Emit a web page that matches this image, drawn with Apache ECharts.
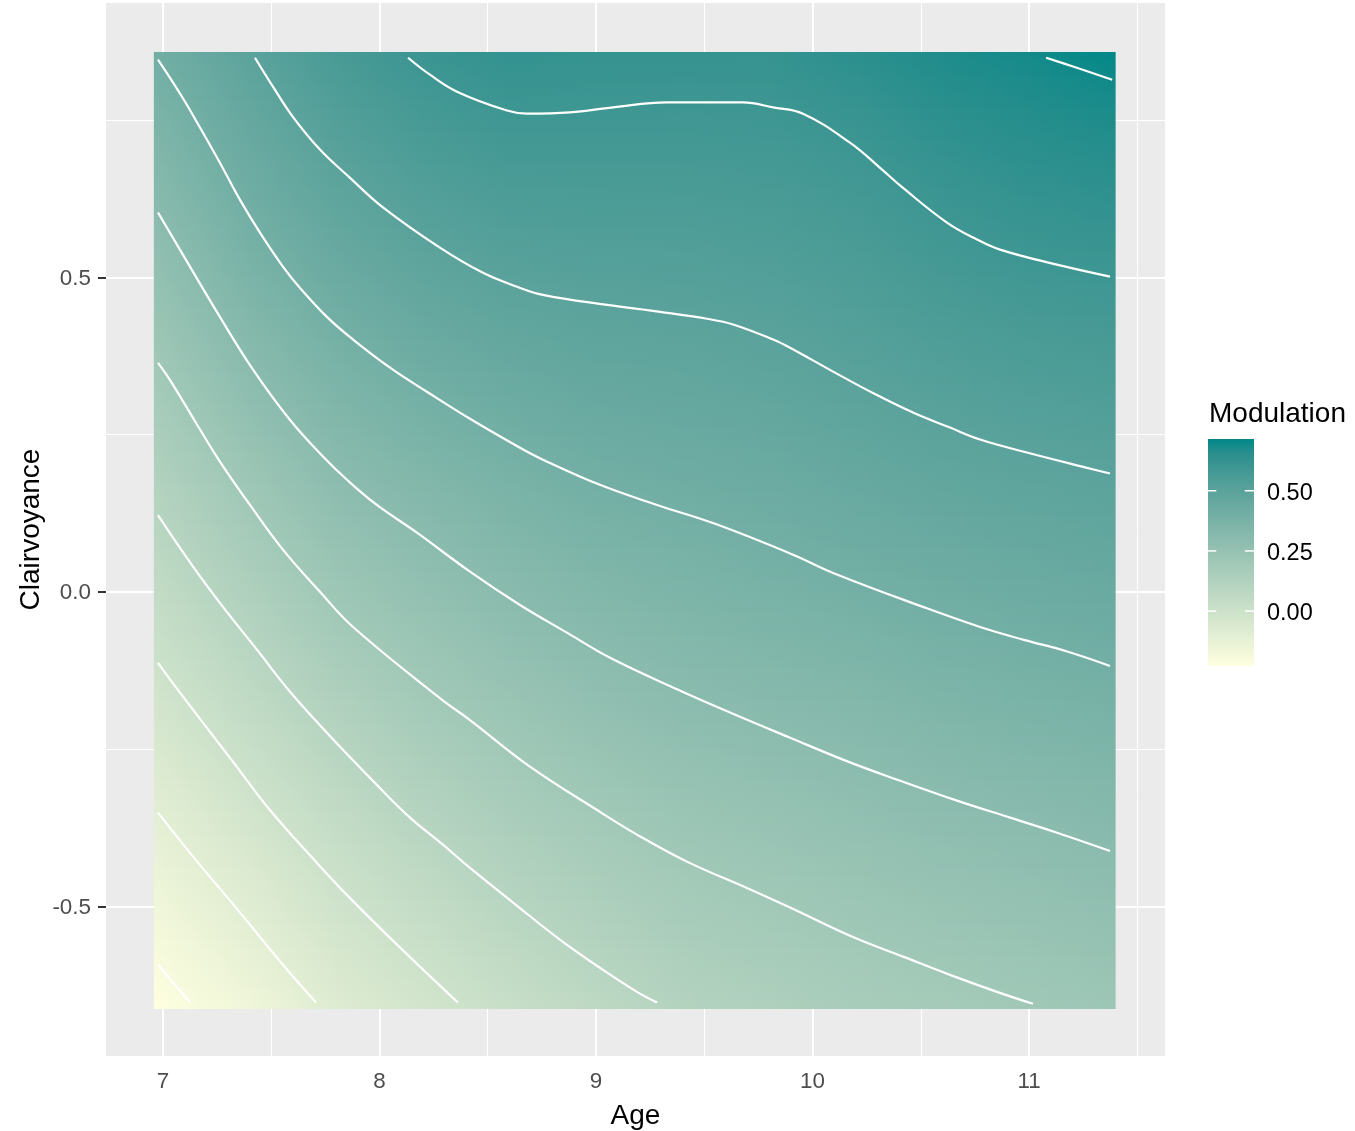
<!DOCTYPE html>
<html><head><meta charset="utf-8">
<style>html,body{margin:0;padding:0;background:#fff}#c{width:1355px;height:1131px}</style>
<script src="https://cdn.jsdelivr.net/npm/echarts@6/dist/echarts.min.js"></script>
</head><body><div id="c"></div>
<script>
// ---- tick labels and scale limits ----
const ageTicks = [7, 8, 9, 10, 11];
const ageMinorLines = [7.5, 8.5, 9.5, 10.5, 11.5];
const clairTicks = [-0.5, 0, 0.5];
const clairMinorLines = [-0.25, 0.25, 0.75];
const legendTicks = [0, 0.25, 0.5];
const modulationLimits = [-0.228, 0.715];

// ---- raster values: one row per Clairvoyance value, one column per Age value ----
const ageBreaks = [6.958, 7.4, 7.8, 8.2, 8.6, 9.0, 9.4, 9.8, 10.2, 10.6, 11.0, 11.4];
const clairBreaks = [0.8585, 0.76, 0.66, 0.56, 0.46, 0.36, 0.26, 0.16, 0.06, -0.04, -0.14, -0.24, -0.34, -0.44, -0.54, -0.663];
const modulationRows = [
  [0.404, 0.493, 0.565, 0.611, 0.633, 0.626, 0.626, 0.625, 0.652, 0.679, 0.697, 0.715],
  [0.363, 0.459, 0.529, 0.574, 0.598, 0.597, 0.595, 0.598, 0.618, 0.650, 0.668, 0.684],
  [0.322, 0.424, 0.492, 0.537, 0.562, 0.565, 0.565, 0.570, 0.587, 0.619, 0.639, 0.652],
  [0.281, 0.387, 0.453, 0.500, 0.525, 0.532, 0.535, 0.543, 0.561, 0.589, 0.609, 0.619],
  [0.240, 0.345, 0.414, 0.458, 0.488, 0.500, 0.506, 0.516, 0.534, 0.559, 0.577, 0.587],
  [0.198, 0.302, 0.372, 0.417, 0.448, 0.466, 0.474, 0.487, 0.508, 0.529, 0.545, 0.555],
  [0.157, 0.256, 0.330, 0.374, 0.408, 0.431, 0.443, 0.455, 0.478, 0.498, 0.513, 0.523],
  [0.115, 0.209, 0.286, 0.330, 0.368, 0.395, 0.411, 0.426, 0.446, 0.465, 0.480, 0.491],
  [0.072, 0.164, 0.240, 0.287, 0.328, 0.358, 0.377, 0.395, 0.414, 0.432, 0.447, 0.460],
  [0.030, 0.118, 0.194, 0.245, 0.288, 0.320, 0.342, 0.360, 0.379, 0.399, 0.413, 0.427],
  [-0.012, 0.073, 0.148, 0.203, 0.246, 0.281, 0.308, 0.325, 0.342, 0.363, 0.380, 0.393],
  [-0.054, 0.027, 0.102, 0.158, 0.204, 0.242, 0.271, 0.289, 0.307, 0.328, 0.345, 0.358],
  [-0.096, -0.017, 0.057, 0.113, 0.163, 0.200, 0.233, 0.252, 0.272, 0.293, 0.309, 0.325],
  [-0.138, -0.061, 0.011, 0.070, 0.122, 0.161, 0.195, 0.216, 0.238, 0.258, 0.274, 0.292],
  [-0.179, -0.104, -0.029, 0.026, 0.078, 0.122, 0.160, 0.181, 0.203, 0.223, 0.240, 0.258],
  [-0.228, -0.158, -0.078, -0.027, 0.025, 0.070, 0.114, 0.136, 0.165, 0.180, 0.200, 0.216]
];

// ---- contour lines: [Age, Clairvoyance] ----
const contourA = [[6.977,-0.593],[7.051,-0.623],[7.125,-0.653]];
const contourB = [[6.977,-0.351],[7.139,-0.421],[7.356,-0.510],[7.554,-0.593],[7.707,-0.653]];
const contourC = [[6.977,-0.113],[7.069,-0.156],[7.323,-0.270],[7.494,-0.347],[7.711,-0.431],[7.864,-0.487],[8.081,-0.561],[8.362,-0.653]];
const contourD = [[6.977,0.122],[7.139,0.040],[7.277,-0.024],[7.434,-0.092],[7.587,-0.159],[7.757,-0.224],[7.988,-0.307],[8.141,-0.359],[8.293,-0.402],[8.418,-0.439],[8.617,-0.494],[8.833,-0.553],[9.032,-0.601],[9.189,-0.636],[9.282,-0.653]];
const contourE = [[6.977,0.364],[7.032,0.337],[7.157,0.266],[7.263,0.207],[7.402,0.138],[7.554,0.067],[7.725,0],[7.878,-0.056],[8.279,-0.169],[8.418,-0.204],[8.695,-0.278],[9.005,-0.347],[9.189,-0.386],[9.420,-0.429],[9.697,-0.471],[9.896,-0.502],[10.187,-0.549],[10.418,-0.580],[10.635,-0.609],[10.852,-0.636],[11.018,-0.655]];
const contourF = [[6.977,0.603],[7.092,0.536],[7.249,0.445],[7.416,0.353],[7.587,0.273],[7.739,0.215],[7.850,0.178],[7.988,0.138],[8.173,0.094],[8.418,0.032],[8.649,-0.021],[8.866,-0.065],[9.065,-0.105],[9.374,-0.155],[9.619,-0.192],[9.896,-0.232],[10.164,-0.270],[10.418,-0.302],[10.667,-0.332],[10.912,-0.359],[11.129,-0.383],[11.374,-0.412]];
const contourG = [[6.977,0.846],[7.088,0.787],[7.171,0.738],[7.263,0.682],[7.356,0.623],[7.448,0.571],[7.554,0.517],[7.633,0.483],[7.757,0.437],[7.878,0.401],[8.062,0.353],[8.219,0.318],[8.418,0.275],[8.649,0.229],[8.755,0.210],[9.018,0.170],[9.282,0.138],[9.550,0.108],[9.910,0.059],[10.095,0.030],[10.510,-0.024],[10.774,-0.056],[10.972,-0.076],[11.176,-0.095],[11.374,-0.118]];
const contourH = [[7.425,0.849],[7.508,0.803],[7.600,0.755],[7.725,0.703],[7.864,0.658],[8.016,0.611],[8.279,0.547],[8.478,0.507],[8.635,0.485],[8.755,0.472],[9.051,0.456],[9.296,0.445],[9.513,0.434],[9.633,0.425],[9.818,0.401],[9.896,0.388],[10.095,0.350],[10.279,0.316],[10.464,0.285],[10.635,0.261],[10.774,0.242],[10.972,0.223],[11.268,0.197],[11.374,0.188]];
const contourI = [[8.132,0.849],[8.233,0.822],[8.358,0.795],[8.589,0.765],[8.681,0.760],[8.880,0.762],[9.079,0.770],[9.328,0.778],[9.679,0.778],[9.818,0.770],[9.956,0.760],[10.173,0.714],[10.312,0.674],[10.418,0.642],[10.621,0.587],[10.760,0.560],[10.866,0.544],[11.129,0.520],[11.374,0.501]];
const contourJ = [[11.079,0.849],[11.203,0.835],[11.384,0.814]];
const contours = [contourA, contourB, contourC, contourD, contourE, contourF, contourG, contourH, contourI, contourJ];

// ---- colour scale: interpolated in Lab between the two ends, as the reference's legend does ----
const lowColor = [255, 255, 224];
const highColor = [0, 136, 136];
function rgb2lab(c) {
  const f = c.map(v => { v /= 255; return v > 0.04045 ? Math.pow((v + 0.055) / 1.055, 2.4) : v / 12.92; });
  const X = (0.4124 * f[0] + 0.3576 * f[1] + 0.1805 * f[2]) / 0.95047;
  const Y = 0.2126 * f[0] + 0.7152 * f[1] + 0.0722 * f[2];
  const Z = (0.0193 * f[0] + 0.1192 * f[1] + 0.9505 * f[2]) / 1.08883;
  const g = t => t > 0.008856 ? Math.cbrt(t) : 7.787 * t + 16 / 116;
  return [116 * g(Y) - 16, 500 * (g(X) - g(Y)), 200 * (g(Y) - g(Z))];
}
function lab2rgb(l) {
  const fy = (l[0] + 16) / 116, fx = fy + l[1] / 500, fz = fy - l[2] / 200;
  const h = t => t > 0.2069 ? t * t * t : (t - 16 / 116) / 7.787;
  const X = h(fx) * 0.95047, Y = h(fy), Z = h(fz) * 1.08883;
  const lin = [3.2406 * X - 1.5372 * Y - 0.4986 * Z, -0.9689 * X + 1.8758 * Y + 0.0415 * Z, 0.0557 * X - 0.2040 * Y + 1.0570 * Z];
  return lin.map(v => {
    v = v > 0.0031308 ? 1.055 * Math.pow(v, 1 / 2.4) - 0.055 : 12.92 * v;
    return Math.max(0, Math.min(255, Math.round(v * 255)));
  });
}
const labLow = rgb2lab(lowColor), labHigh = rgb2lab(highColor);
function colorOf(v) {
  const t = Math.max(0, Math.min(1, (v - modulationLimits[0]) / (modulationLimits[1] - modulationLimits[0])));
  const c = lab2rgb(labLow.map((a, i) => a + (labHigh[i] - a) * t));
  return 'rgb(' + c.join(',') + ')';
}

const FONT = '"Liberation Sans", Arial, sans-serif';
const SUB = 10;
const ageSpan = ageBreaks[ageBreaks.length - 1] - ageBreaks[0];

// raster: each data row is painted as horizontal strips with colour stops at the Age columns
function renderRaster(params, api) {
  const i = api.value(2);
  const r0 = modulationRows[i], r1 = modulationRows[i + 1];
  const left = api.coord([ageBreaks[0], clairBreaks[i]]);
  const right = api.coord([ageBreaks[ageBreaks.length - 1], clairBreaks[i]]);
  const bottom = api.coord([ageBreaks[0], clairBreaks[i + 1]]);
  const H = bottom[1] - left[1];
  const children = [];
  for (let s = 0; s < SUB; s++) {
    const f = (s + 0.5) / SUB;
    const stops = ageBreaks.map((a, j) => ({
      offset: (a - ageBreaks[0]) / ageSpan,
      color: colorOf(r0[j] + (r1[j] - r0[j]) * f)
    }));
    const y0 = Math.round(left[1] + H * s / SUB), y1 = Math.round(left[1] + H * (s + 1) / SUB);
    children.push({
      type: 'rect',
      shape: { x: left[0], y: y0, width: right[0] - left[0], height: y1 - y0 },
      style: { fill: new echarts.graphic.LinearGradient(0, 0, 1, 0, stops) }
    });
  }
  return { type: 'group', children };
}

// legend colour bar on its own small axis
function renderLegend(params, api) {
  const top = api.coord([0, modulationLimits[1]]);
  const bot = api.coord([1, modulationLimits[0]]);
  const stops = [];
  for (let k = 0; k <= 16; k++) {
    stops.push({ offset: k / 16, color: colorOf(modulationLimits[1] + (modulationLimits[0] - modulationLimits[1]) * k / 16) });
  }
  const children = [{
    type: 'rect',
    shape: { x: top[0], y: top[1], width: bot[0] - top[0], height: bot[1] - top[1] },
    style: { fill: new echarts.graphic.LinearGradient(0, 0, 0, 1, stops) }
  }];
  legendTicks.forEach(v => {
    [[0, 0.18], [0.8, 1]].forEach(p => {
      const a = api.coord([p[0], v]), b = api.coord([p[1], v]);
      children.push({ type: 'line', shape: { x1: a[0], y1: a[1], x2: b[0], y2: b[1] }, style: { stroke: '#fff', lineWidth: 1.5 } });
    });
  });
  return { type: 'group', children };
}

const series = [
  {
    type: 'line', xAxisIndex: 0, yAxisIndex: 0, data: [], z: 1, silent: true,
    markLine: {
      z: 1, silent: true, symbol: 'none', animation: false, label: { show: false },
      lineStyle: { color: '#fff', width: 1, type: 'solid' },
      data: ageMinorLines.map(v => ({ xAxis: v })).concat(clairMinorLines.map(v => ({ yAxis: v })))
    }
  },
  {
    type: 'custom', xAxisIndex: 0, yAxisIndex: 0, z: 3, silent: true, clip: false,
    renderItem: renderRaster,
    encode: { x: 0, y: 1 },
    data: clairBreaks.slice(0, -1).map((y, i) => [ageBreaks[0], y, i])
  },
  {
    type: 'custom', xAxisIndex: 1, yAxisIndex: 1, z: 3, silent: true, clip: false,
    renderItem: renderLegend,
    encode: { x: 0, y: 1 },
    data: [[0, modulationLimits[1]]]
  }
];
contours.forEach(c => series.push({
  type: 'line', xAxisIndex: 0, yAxisIndex: 0, data: c, z: 4, silent: true,
  showSymbol: false, symbol: 'none', smooth: 0.4,
  lineStyle: { color: '#fff', width: 2.2 }
}));

const chart = echarts.init(document.getElementById('c'), null, { renderer: 'canvas' });
chart.setOption({
  animation: false,
  backgroundColor: '#fff',
  title: {
    text: 'Modulation', left: 1209, top: 400, padding: 0,
    textStyle: { fontFamily: FONT, fontSize: 28, fontWeight: 'normal', color: '#000' }
  },
  grid: [
    { left: 106, top: 3, width: 1059, height: 1053, show: true, backgroundColor: '#EBEBEB', borderWidth: 0, outerBoundsMode: 'none' },
    { left: 1208, top: 439, width: 46, height: 227, show: false, outerBoundsMode: 'none' }
  ],
  xAxis: [
    {
      type: 'value', gridIndex: 0, min: 6.737, max: 11.628,
      name: 'Age', nameLocation: 'middle', nameGap: 46, nameMoveOverlap: false,
      nameTextStyle: { fontFamily: FONT, fontSize: 28, color: '#000' },
      axisLine: { show: false },
      axisTick: { show: true, length: 8, lineStyle: { color: '#333', width: 2 }, customValues: ageTicks },
      axisLabel: { customValues: ageTicks, margin: 15, fontFamily: FONT, fontSize: 22.4, color: '#4D4D4D' },
      splitLine: { show: true, lineStyle: { color: '#fff', width: 2 } }
    },
    { type: 'value', gridIndex: 1, min: 0, max: 1, show: false }
  ],
  yAxis: [
    {
      type: 'value', gridIndex: 0, min: -0.738, max: 0.936,
      name: 'Clairvoyance', nameLocation: 'middle', nameGap: 61, nameRotate: 90, nameMoveOverlap: false,
      nameTextStyle: { fontFamily: FONT, fontSize: 28, color: '#000' },
      axisLine: { show: false },
      axisTick: { show: true, length: 8, lineStyle: { color: '#333', width: 2 }, customValues: clairTicks },
      axisLabel: { customValues: clairTicks, margin: 15, verticalAlign: 'top', lineHeight: 3, fontFamily: FONT, fontSize: 22.4, color: '#4D4D4D', formatter: v => v.toFixed(1) },
      splitLine: { show: true, lineStyle: { color: '#fff', width: 2 } }
    },
    {
      type: 'value', gridIndex: 1, position: 'right', min: modulationLimits[0], max: modulationLimits[1],
      axisLine: { show: false }, axisTick: { show: false, customValues: legendTicks }, splitLine: { show: false },
      axisLabel: { customValues: legendTicks, margin: 13, verticalAlign: 'top', lineHeight: 5, fontFamily: FONT, fontSize: 23.5, color: '#000', formatter: v => v.toFixed(2) }
    }
  ],
  series
});
</script></body></html>
